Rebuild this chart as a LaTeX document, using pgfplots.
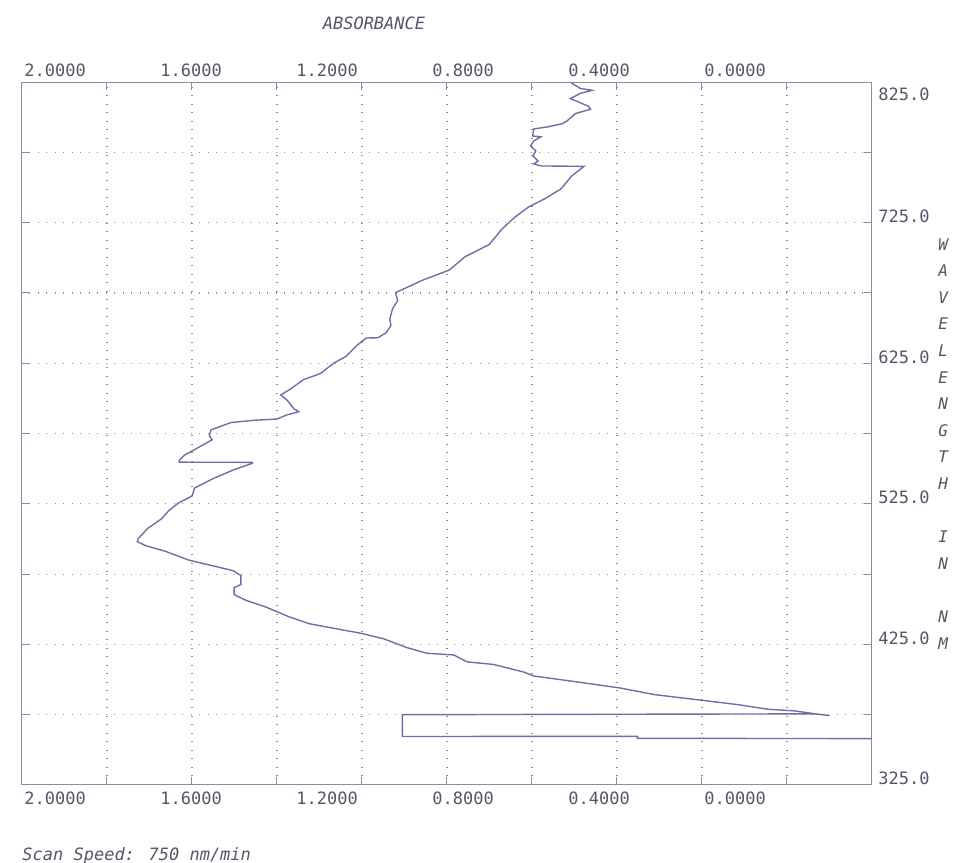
\documentclass[border=0pt]{standalone}
\usepackage{fontspec}
\setmainfont{DejaVu Sans Mono}
\usepackage{pgfplots}
\pgfplotsset{compat=1.18}
\definecolor{curve}{HTML}{6E6EA8}
\definecolor{axc}{HTML}{8A8AA6}
\definecolor{gridc}{HTML}{8C8C9C}
\definecolor{txt}{HTML}{55556A}
\pgfplotstableread{
A lam
0.385 824.5
0.358 820.4
0.323 819.1
0.358 816.9
0.387 813.2
0.367 811.2
0.334 807.7
0.328 805.6
0.372 802.6
0.396 797.5
0.410 795.4
0.454 793.1
0.495 791.6
0.498 786.6
0.474 786.0
0.495 783.0
0.504 779.5
0.489 776.0
0.497 772.4
0.482 768.9
0.494 766.7
0.473 765.3
0.347 765.0
0.385 757.8
0.414 749.1
0.463 741.9
0.510 736.1
0.551 728.8
0.589 720.2
0.626 709.4
0.697 700.7
0.743 691.3
0.822 684.0
0.901 675.2
0.895 669.5
0.910 663.8
0.918 656.7
0.915 651.7
0.929 646.7
0.953 643.1
0.988 642.9
1.017 637.2
1.046 630.0
1.084 624.9
1.122 617.7
1.172 613.3
1.210 606.7
1.239 602.4
1.221 598.9
1.200 592.6
1.186 590.5
1.221 588.2
1.250 585.3
1.318 584.4
1.385 582.8
1.444 577.6
1.449 573.4
1.441 570.5
1.484 564.7
1.522 559.6
1.537 556.0
1.537 554.6
1.322 554.5
1.322 553.8
1.375 549.4
1.433 543.5
1.492 536.3
1.500 530.5
1.541 525.4
1.570 519.7
1.588 514.6
1.631 507.4
1.658 500.2
1.661 498.1
1.637 495.3
1.578 491.2
1.510 485.0
1.439 480.9
1.380 477.5
1.356 474.0
1.356 467.6
1.376 465.4
1.376 460.4
1.341 456.3
1.282 451.5
1.214 444.6
1.155 439.7
1.066 435.7
1.007 433.1
0.936 429.0
0.869 422.8
0.809 418.7
0.730 417.5
0.691 412.6
0.612 410.7
0.524 405.3
0.494 402.5
0.376 398.6
0.241 394.0
0.140 389.3
0.005 385.4
-0.104 382.2
-0.193 378.9
-0.272 377.7
-0.331 375.7
-0.375 374.4
-0.330 375.6
0.881 375.0
0.881 359.5
0.190 359.6
0.190 358.2
-0.500 358.0
}\spectrum
\begin{document}
\begin{tikzpicture}
\path[use as bounding box] (-11pt,-39pt) rectangle (466.5pt,392.5pt);
\begin{axis}[
  at={(0,0)}, anchor=south west,
  scale only axis, width=425pt, height=351.5pt,
  x dir=reverse, xmin=-0.5, xmax=2, ymin=325, ymax=825,
  axis line style={draw=axc, line width=0.5pt},
  xtick={2,1.6,1.2,0.8,0.4,0},
  xticklabels={2.0000,1.6000,1.2000,0.8000,0.4000,0.0000},
  xticklabel pos=lower,
  xticklabel style={anchor=north west, inner sep=0pt, yshift=-3pt, xshift=1pt},
  ytick={325,425,525,625,725},
  yticklabels={325.0,425.0,525.0,625.0,725.0},
  yticklabel pos=right,
  yticklabel style={anchor=base west, inner sep=0pt, xshift=3pt},
  extra y ticks={825}, extra y tick labels={825.0},
  extra y tick style={yticklabel style={anchor=north west, yshift=-2.5pt}},
  major tick length=0pt,
  minor xtick={-0.25,0,0.25,0.5,0.75,1,1.25,1.5,1.75},
  minor ytick={375,425,475,525,575,625,675,725,775},
  minor tick length=4pt,
  tick align=inside,
  minor tick style={draw=axc, line width=0.5pt},
  xminorgrids, yminorgrids,
  minor grid style={draw=gridc, line width=0.6pt, dash pattern=on 0.6pt off 3.65pt},
  tick label style={font=\fontsize{8.5}{10}\selectfont, text=txt},
  clip=false,
]
\addplot[curve, line width=0.7pt] table[x=A, y=lam] {\spectrum};
\end{axis}
\begin{axis}[
  at={(0,0)}, anchor=south west,
  scale only axis, width=425pt, height=351.5pt,
  x dir=reverse, xmin=-0.5, xmax=2, ymin=325, ymax=825,
  axis line style={draw=none},
  xtick={2,1.6,1.2,0.8,0.4,0},
  xticklabels={2.0000,1.6000,1.2000,0.8000,0.4000,0.0000},
  xticklabel pos=upper,
  xticklabel style={anchor=south west, inner sep=0pt, yshift=2.5pt, xshift=1pt},
  ytick=\empty,
  major tick length=0pt,
  tick label style={font=\fontsize{8.5}{10}\selectfont, text=txt},
]
\end{axis}
\node[font=\fontsize{8.5}{10}\selectfont\itshape, text=txt, inner sep=0pt] at (176pt,381pt) {ABSORBANCE};
\node[font=\fontsize{8.5}{10}\selectfont\itshape, text=txt, inner sep=0pt, anchor=west] at (0pt,-35.5pt) {Scan Speed: 750 nm/min};
\node[font=\fontsize{8}{13.3}\selectfont\itshape, text=txt, inner sep=0pt, anchor=north west, align=left] at (458pt,273.5pt) {W\\A\\V\\E\\L\\E\\N\\G\\T\\H\\[13.3pt]I\\N\\[13.3pt]N\\M};
\end{tikzpicture}
\end{document}
